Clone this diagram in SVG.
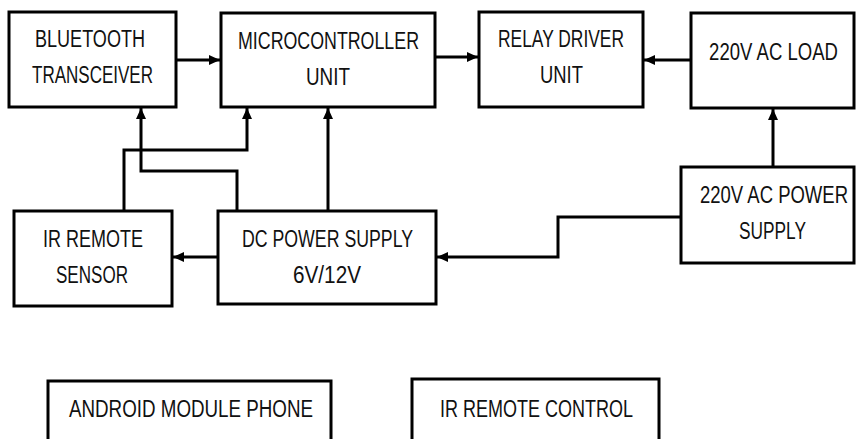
<svg xmlns="http://www.w3.org/2000/svg" width="856" height="439" viewBox="0 0 856 439">
<style>
.box{fill:#fff;stroke:#000;stroke-width:3}
.lbl{font-family:"Liberation Sans",Arial,sans-serif;font-size:23px;fill:#111;text-anchor:middle}
.wire{fill:none;stroke:#000;stroke-width:3}
</style>
<defs>
<marker id="ah" markerUnits="userSpaceOnUse" markerWidth="12" markerHeight="12" viewBox="0 0 12 12" refX="11" refY="6" orient="auto">
<path d="M0,1 L11,6 L0,11 Z" fill="#000"/>
</marker>
</defs>
<rect width="856" height="439" fill="#fff"/>
<g id="connectors">
<path class="wire" d="M176,60 H220" marker-end="url(#ah)"/>
<path class="wire" d="M435,57 H478" marker-end="url(#ah)"/>
<path class="wire" d="M691,60 H644" marker-end="url(#ah)"/>
<path class="wire" d="M773,167 V109" marker-end="url(#ah)"/>
<path class="wire" d="M681,217 H558 V257 H437" marker-end="url(#ah)"/>
<path class="wire" d="M218,257 H173" marker-end="url(#ah)"/>
<path class="wire" d="M328,211 V108" marker-end="url(#ah)"/>
<path class="wire" d="M237,211 V171 H141 V108" marker-end="url(#ah)"/>
<path class="wire" d="M124,211 V150 H247 V108" marker-end="url(#ah)"/>
</g>
<g id="bluetooth">
<rect class="box" x="9" y="12" width="167" height="95"/>
<text class="lbl" x="90" y="47" textLength="110" lengthAdjust="spacingAndGlyphs">BLUETOOTH</text>
<text class="lbl" x="92.5" y="83" textLength="121" lengthAdjust="spacingAndGlyphs">TRANSCEIVER</text>
</g>
<g id="mcu">
<rect class="box" x="221" y="13" width="214" height="94"/>
<text class="lbl" x="328.5" y="49" textLength="181" lengthAdjust="spacingAndGlyphs">MICROCONTROLLER</text>
<text class="lbl" x="328" y="85" textLength="44" lengthAdjust="spacingAndGlyphs">UNIT</text>
</g>
<g id="relay">
<rect class="box" x="479" y="12" width="164" height="95"/>
<text class="lbl" x="561" y="47" textLength="126" lengthAdjust="spacingAndGlyphs">RELAY DRIVER</text>
<text class="lbl" x="561.5" y="83" textLength="43" lengthAdjust="spacingAndGlyphs">UNIT</text>
</g>
<g id="acload">
<rect class="box" x="691" y="13" width="163" height="95"/>
<text class="lbl" transform="translate(773.5,60) scale(0.8,1)" x="0" y="0" textLength="161" lengthAdjust="spacingAndGlyphs">220V AC LOAD</text>
</g>
<g id="irsensor">
<rect class="box" x="14" y="211" width="158" height="95"/>
<text class="lbl" x="93" y="247" textLength="100" lengthAdjust="spacingAndGlyphs">IR REMOTE</text>
<text class="lbl" x="92" y="283" textLength="72" lengthAdjust="spacingAndGlyphs">SENSOR</text>
</g>
<g id="dcpower">
<rect class="box" x="218" y="211" width="218" height="93"/>
<text class="lbl" x="327.5" y="247" textLength="171" lengthAdjust="spacingAndGlyphs">DC POWER SUPPLY</text>
<text class="lbl" x="327" y="283" textLength="68" lengthAdjust="spacingAndGlyphs">6V/12V</text>
</g>
<g id="acpower">
<rect class="box" x="681" y="167" width="173" height="96"/>
<text class="lbl" transform="translate(774,203) scale(0.8,1)" x="0" y="0" textLength="185" lengthAdjust="spacingAndGlyphs">220V AC POWER</text>
<text class="lbl" x="772.5" y="239" textLength="67" lengthAdjust="spacingAndGlyphs">SUPPLY</text>
</g>
<g id="android">
<rect class="box" x="48" y="381" width="283" height="80"/>
<text class="lbl" x="191" y="417" textLength="244" lengthAdjust="spacingAndGlyphs">ANDROID MODULE PHONE</text>
</g>
<g id="ircontrol">
<rect class="box" x="412" y="379" width="247" height="82"/>
<text class="lbl" x="536.5" y="417" textLength="193" lengthAdjust="spacingAndGlyphs">IR REMOTE CONTROL</text>
</g>
</svg>
